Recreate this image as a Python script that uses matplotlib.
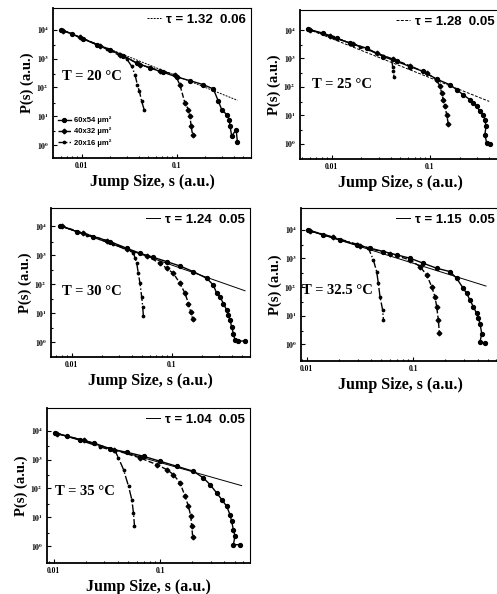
import matplotlib
matplotlib.use("Agg")
import matplotlib.pyplot as plt
from matplotlib.ticker import FixedLocator, LogLocator, NullFormatter

plt.rcParams["font.family"] = ["Liberation Serif", "DejaVu Serif"]
plt.rcParams["mathtext.fontset"] = "stix"

# Panel labels
temps = ["20", "25", "30", "32.5", "35"]
taus = ["1.32", "1.28", "1.24", "1.15", "1.04"]
tau_errs = ["0.06", "0.05", "0.05", "0.05", "0.05"]
size_labels = ["60x54 µm²", "40x32 µm²", "20x16 µm²"]

# Data: jump size s and P(s), per temperature and sample size
# T = 20 C
s20_a = [0.00606, 0.00785, 0.0104, 0.0144, 0.0199, 0.0275, 0.0379, 0.0524, 0.0724, 0.100,
         0.138, 0.191, 0.243, 0.275, 0.298, 0.336, 0.358, 0.364, 0.379, 0.422, 0.436]
p20_a = [10000, 7280, 4750, 3030, 2030, 1260, 703, 472, 334, 231,
         172, 125, 89, 33, 17, 11.5, 7.7, 4.8, 2.05, 3.5, 1.27]
s20_b = [0.00641, 0.0096, 0.0156, 0.0254, 0.0411, 0.0668, 0.0961, 0.108, 0.122, 0.133, 0.138, 0.142, 0.147]
p20_b = [9230, 5430, 2800, 1365, 617, 382, 278, 125, 29, 17, 10, 4.5, 2.3]
s20_c = [0.00615, 0.0104, 0.0183, 0.0298, 0.0336, 0.0364, 0.0385, 0.0405, 0.0428, 0.0457]
p20_c = [9730, 4890, 2140, 968, 540, 278, 125, 74, 33, 16]
fit20_s = [0.00606, 0.436]
fit20_p = [10000, 36]

# T = 25 C
s25_a = [0.0058, 0.00822, 0.01125, 0.01535, 0.0227, 0.0335, 0.0458, 0.0627, 0.0855, 0.117, 0.160, 0.187,
         0.218, 0.255, 0.276, 0.299, 0.322, 0.348, 0.362, 0.371, 0.362, 0.377, 0.407]
p25_a = [10500, 7640, 5100, 3400, 2280, 1160, 775, 516, 345, 186, 117, 78.5,
         52.4, 35, 26.7, 20.4, 13.6, 10.4, 6.95, 4.06, 2.07, 1.05, 1.0]
s25_b = [0.00602, 0.0096, 0.0166, 0.0287, 0.0424, 0.0627, 0.0925, 0.117, 0.1265, 0.1315, 0.1368, 0.1423, 0.1477, 0.1535]
p25_b = [10000, 6150, 3140, 1518, 935, 546, 302, 176, 103, 60, 35, 20.4, 10.4, 5.04]
s25_c = [0.00593, 0.0104, 0.0194, 0.0335, 0.0407, 0.0417, 0.0424, 0.0431]
p25_c = [10270, 5530, 2600, 1225, 935, 516, 345, 218]
fit25_s = [0.0058, 0.40]
fit25_p = [10500, 30.6]

# T = 30 C
s30_a = [0.00764, 0.01122, 0.01648, 0.02415, 0.0355, 0.0482, 0.0656, 0.0891, 0.121, 0.165, 0.224, 0.261,
         0.282, 0.304, 0.329, 0.355, 0.369, 0.383, 0.398, 0.414, 0.430, 0.465, 0.541]
p30_a = [10540, 6700, 4490, 3006, 1762, 1180, 857, 607, 428, 272, 160, 93.5,
         48, 36.7, 21.5, 12.6, 8.5, 5.7, 3.33, 1.95, 1.14, 1.08, 1.08]
s30_b = [0.00794, 0.0131, 0.0224, 0.0355, 0.0562, 0.0764, 0.0891, 0.104, 0.121, 0.136, 0.147, 0.155, 0.162]
p30_b = [10270, 5870, 3260, 1670, 955, 531, 356, 238, 107, 48, 21.5, 11.0, 6.5]
s30_c = [0.00776, 0.0141, 0.0261, 0.0414, 0.0430, 0.0447, 0.0464, 0.0482, 0.0501, 0.0513, 0.0521]
p30_c = [10540, 5130, 2430, 1248, 793, 531, 238, 107, 36.7, 16.5, 7.8]
fit30_s = [0.00764, 0.541]
fit30_p = [10540, 59.4]

# T = 32.5 C
s325_a = [0.01038, 0.01432, 0.02054, 0.02944, 0.0393, 0.0524, 0.0698, 0.0931, 0.124, 0.1656, 0.221,
          0.2547, 0.294, 0.316, 0.340, 0.365, 0.393, 0.407, 0.422, 0.4375, 0.422, 0.470]
p325_a = [9480, 6680, 4460, 2980, 2275, 1738, 1327, 1014, 676, 452, 345,
          201, 89.7, 60, 35, 20.4, 11.9, 7.96, 5.3, 2.37, 1.21, 1.11]
s325_b = [0.01075, 0.0178, 0.0316, 0.0604, 0.0931, 0.1155, 0.1334, 0.1486, 0.1596, 0.1656, 0.1716, 0.1754]
p325_b = [9230, 5380, 2750, 1440, 886, 516, 264, 103, 45.8, 20.4, 6.95, 2.5]
s325_c = [0.0106, 0.0178, 0.0294, 0.0379, 0.0422, 0.0453, 0.047, 0.0487, 0.0516, 0.0524]
p325_c = [9480, 5530, 3140, 2275, 886, 345, 135, 45.8, 15.6, 7.3]
fit325_s = [0.01038, 0.48]
fit325_p = [9480, 108]

# T = 35 C
s35_a = [0.01038, 0.01334, 0.01778, 0.0237, 0.034, 0.0486, 0.0698, 0.100, 0.143, 0.205, 0.255,
         0.294, 0.340, 0.379, 0.422, 0.453, 0.470, 0.487, 0.505, 0.487, 0.562]
p35_a = [8300, 6370, 4890, 3740, 2320, 1782, 1294, 869, 585, 393, 231,
         136, 69.8, 41.1, 24.2, 12.4, 7.3, 3.77, 2.22, 1.14, 1.14]
s35_b = [0.01075, 0.0191, 0.0365, 0.0649, 0.093, 0.1155, 0.1334, 0.154, 0.1714, 0.1845, 0.194, 0.198, 0.2023]
p35_b = [7870, 4630, 2200, 1135, 667, 448, 301, 155, 53.6, 24.2, 10.9, 4.92, 2.1]
s35_c = [0.0106, 0.01778, 0.0274, 0.0379, 0.0406, 0.0453, 0.0505, 0.0542, 0.0562, 0.0574]
p35_c = [8090, 4630, 2720, 1928, 1135, 448, 119, 41.1, 14.2, 5.19]
fit35_s = [0.01038, 0.583]
fit35_p = [8300, 125]

panels = [
    ((s20_a, p20_a), (s20_b, p20_b), (s20_c, p20_c), (fit20_s, fit20_p)),
    ((s25_a, p25_a), (s25_b, p25_b), (s25_c, p25_c), (fit25_s, fit25_p)),
    ((s30_a, p30_a), (s30_b, p30_b), (s30_c, p30_c), (fit30_s, fit30_p)),
    ((s325_a, p325_a), (s325_b, p325_b), (s325_c, p325_c), (fit325_s, fit325_p)),
    ((s35_a, p35_a), (s35_b, p35_b), (s35_c, p35_c), (fit35_s, fit35_p)),
]

# Layout (pixels): left, top, right, bottom of each axes box
W, H = 497, 594
boxes = [(53, 8, 251, 158), (300, 10, 500, 159), (51, 208, 250, 357),
         (301, 208, 500, 361), (47, 408, 250, 563)]
xlims = [(-2.302, -0.218), (-2.322, -0.288), (-2.207, -0.217), (-2.053, -0.1875), (-2.0625, -0.156)]
ylims = [(-0.44, 4.75), (-0.54, 4.70), (-0.52, 4.64), (-0.585, 4.76), (-0.576, 4.78)]
tpos = [(0.045, 0.54), (0.06, 0.50), (0.055, 0.44), (0.005, 0.46), (0.04, 0.46)]
fit_styles = [(0, (2, 1.2)), (0, (3, 1.5)), "-", "-", "-"]

styles = [
    dict(ls="-", marker="o", ms=2.8),
    dict(ls="--", marker="D", ms=2.4),
    dict(ls="-.", marker=".", ms=3.4),
]

fig = plt.figure(figsize=(W / 100, H / 100), dpi=100)

for i, (curves, box) in enumerate(zip(panels, boxes)):
    l, t, r, b = box
    ax = fig.add_axes([l / W, 1 - b / H, (r - l) / W, (b - t) / H])
    ax.set_xscale("log")
    ax.set_yscale("log")

    handles = []
    for (s, p), st in zip(curves[:3], styles):
        h, = ax.plot(s, p, color="black", lw=1.0, mfc="black", mec="black", **st)
        handles.append(h)
    fs, fp = curves[3]
    fit_line, = ax.plot(fs, fp, color="black", lw=0.7, ls=fit_styles[i])

    ax.set_xlim(10 ** xlims[i][0], 10 ** xlims[i][1])
    ax.set_ylim(10 ** ylims[i][0], 10 ** ylims[i][1])

    ax.xaxis.set_major_locator(FixedLocator([0.01, 0.1]))
    ax.set_xticklabels(["0.01", "0.1"])
    ax.xaxis.set_minor_locator(LogLocator(base=10, subs=range(2, 10)))
    ax.xaxis.set_minor_formatter(NullFormatter())
    ax.yaxis.set_major_locator(FixedLocator([1, 10, 100, 1000, 10000]))
    ax.set_yticklabels([r"$\mathbf{10^{%d}}$" % k for k in range(5)])
    ax.yaxis.set_minor_locator(FixedLocator([3, 30, 300, 3000]))
    ax.yaxis.set_minor_formatter(NullFormatter())

    ax.tick_params(which="both", direction="in", top=False, right=False, width=0.8)
    ax.tick_params(which="major", length=3, labelsize=5.5, pad=3)
    ax.tick_params(which="minor", length=1.6)
    for lab in ax.get_xticklabels() + ax.get_yticklabels():
        lab.set_fontweight("bold")

    for side in ["left", "bottom"]:
        ax.spines[side].set_linewidth(1.3)
    for side in ["top", "right"]:
        ax.spines[side].set_linewidth(0.8)

    ax.set_xlabel("Jump Size, s (a.u.)", fontsize=11.5, fontweight="bold", labelpad=3)
    ax.set_ylabel("P(s) (a.u.)", fontsize=10.5, fontweight="bold", labelpad=2)

    ax.text(tpos[i][0], tpos[i][1], f"T = {temps[i]} °C", transform=ax.transAxes,
            fontsize=10.5, fontweight="bold", ha="left", va="center")

    leg_tau = ax.legend([fit_line], [f"τ = {taus[i]}  {tau_errs[i]}"], loc="upper right",
                        frameon=False, handlelength=1.1, handletextpad=0.35,
                        borderaxespad=0.2, borderpad=0.2,
                        prop=dict(family="Liberation Sans", weight="bold", size=9.5))

    if i == 0:
        ax.add_artist(leg_tau)
        ax.legend(handles, size_labels, loc="lower left", bbox_to_anchor=(0.0, 0.04),
                  frameon=False, handlelength=1.6, handletextpad=0.5, labelspacing=0.45,
                  borderpad=0.2, prop=dict(family="Liberation Sans", weight="bold", size=5.5))

fig.savefig("out.png", dpi=100)
